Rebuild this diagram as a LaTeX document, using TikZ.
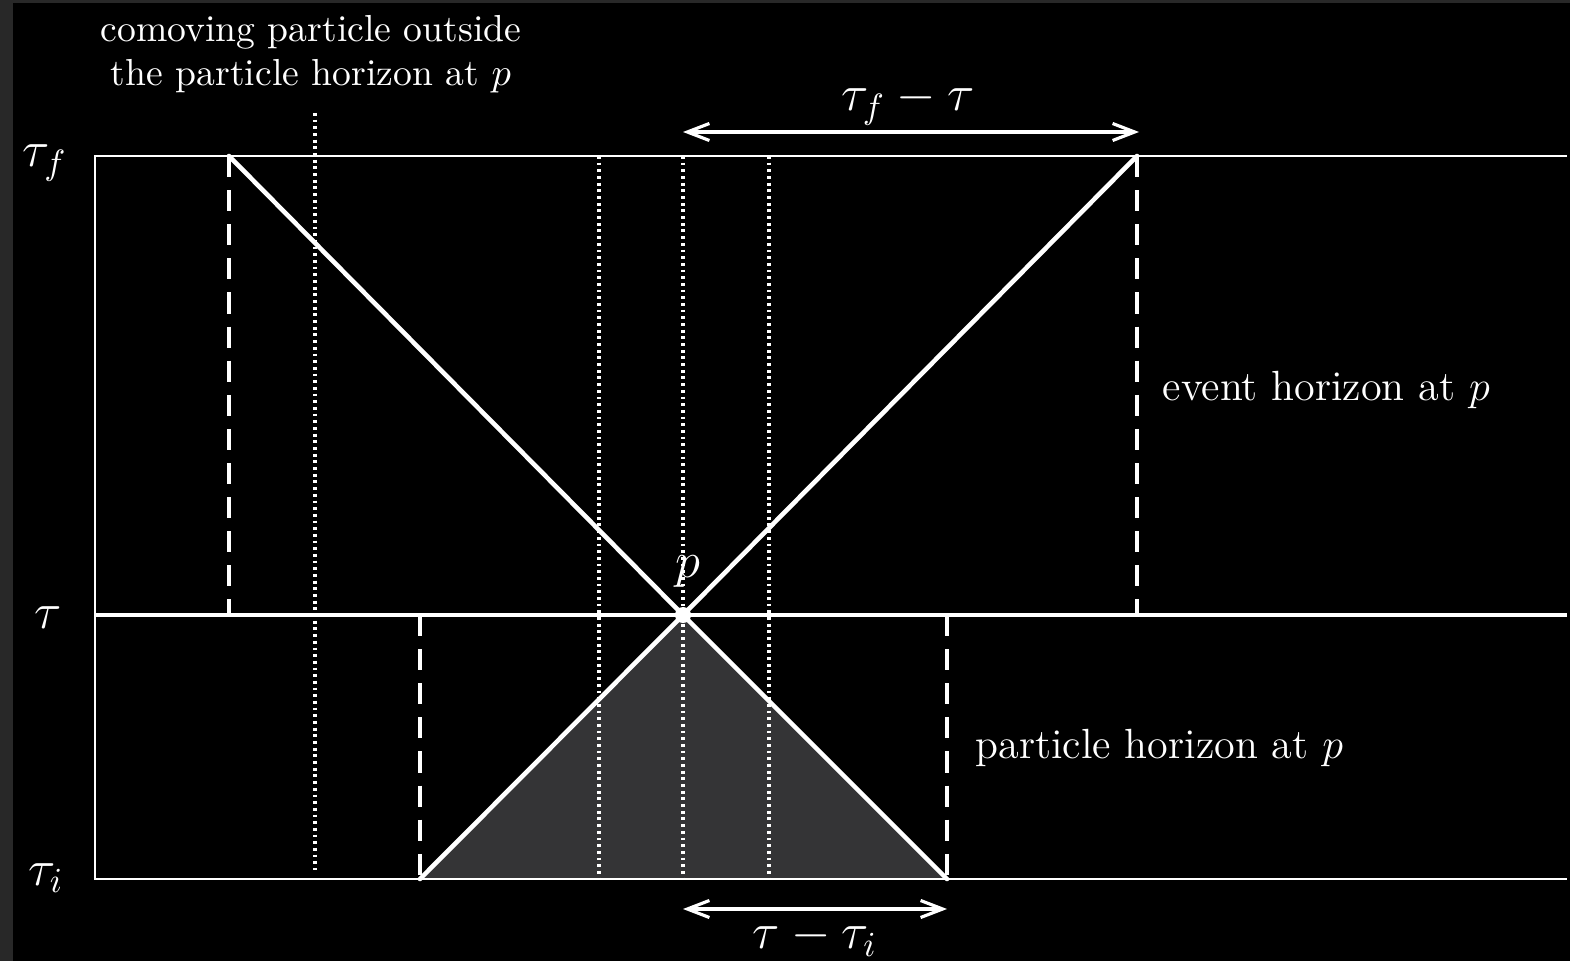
\documentclass[tikz,border=0pt]{standalone}
\usepackage{amsmath,amssymb}
\usetikzlibrary{arrows.meta,positioning}
\definecolor{ink}{RGB}{255,255,255}
\definecolor{frame}{RGB}{40,40,40}
\definecolor{cone}{RGB}{52,52,54}
\tikzset{
  edge/.style={draw=ink, line width=0.65pt},
  slice/.style={draw=ink, line width=1.2pt},
  ray/.style={draw=ink, line width=1.3pt, line cap=round},
  horizon/.style={draw=ink, line width=0.9pt, dash pattern=on 6pt off 3.7pt},
  worldline/.style={draw=ink, line width=0.9pt, dash pattern=on 0.8pt off 1.1pt},
  span/.style={{Straight Barb[length=2.2mm,width=1.7mm]}-{Straight Barb[length=2.2mm,width=1.7mm]}, draw=ink, line width=0.9pt},
  label/.style={text=ink, font=\large, align=center, inner sep=0pt},
  mlabel/.style={text=ink, font=\Large, inner sep=0pt}
}
\begin{document}
\begin{tikzpicture}[x=0.01cm, y=-0.01cm]
\useasboundingbox (0,0) rectangle (1570,961);
\fill[frame] (0,0) rectangle (1570,961);
\fill[black] (13,3) rectangle (1570,961);
\coordinate (fl) at (95,156);
\coordinate (fr) at (1567,156);
\coordinate (ml) at (95,615);
\coordinate (mr) at (1567,615);
\coordinate (il) at (95,879);
\coordinate (ir) at (1567,879);
\coordinate (p) at (683,615);
\coordinate (evl) at (229,156);
\coordinate (evr) at (1137,156);
\coordinate (evlb) at (229,615);
\coordinate (evrb) at (1137,615);
\coordinate (phl) at (420,879);
\coordinate (phr) at (947,879);
\coordinate (phlt) at (420,615);
\coordinate (phrt) at (947,615);
\fill[cone] (phl) -- (p) -- (phr) -- cycle;
\draw[worldline] (315,113) coordinate (out) -- (315,870) coordinate (outb);
\foreach \x in {599,683,769}
  \draw[worldline] (\x,156) -- (\x,879);
\draw[edge] (fr) -- (fl) -- (il) -- (ir);
\draw[slice] (ml) -- (mr);
\draw[horizon] (evl) -- (evlb);
\draw[horizon] (evr) -- (evrb);
\draw[horizon] (phlt) -- (phl);
\draw[horizon] (phrt) -- (phr);
\draw[ray] (evl) -- (p) -- (evr);
\draw[ray] (phl) -- (p) -- (phr);
\fill[ink] (p) circle (0.08cm);
\coordinate (a1) at (683,132);
\coordinate (a2) at (1139,132);
\coordinate (b1) at (683,909);
\coordinate (b2) at (947,909);
\draw[span] (a1) -- (a2);
\draw[span] (b1) -- (b2);
\node[mlabel] (tf) at (45,163) {$\tau_f$};
\node[mlabel] (tm) at (48,618) {$\tau$};
\node[mlabel] (ti) at (46,878) {$\tau_i$};
\node[mlabel] (plabel) at (688,572) {$p$};
\node[mlabel] (future) at (908,103) {$\tau_f-\tau$};
\node[mlabel] (past) at (815,938) {$\tau-\tau_i$};
\node[label, anchor=west] (event) at (1162,390) {event horizon at $p$};
\node[label, anchor=west] (particle) at (975,748) {particle horizon at $p$};
\node[label, font=\fontsize{10.7}{12.5}\selectfont] (comoving) at (311,54) {comoving particle outside\\ the particle horizon at $p$};
\end{tikzpicture}
\end{document}
